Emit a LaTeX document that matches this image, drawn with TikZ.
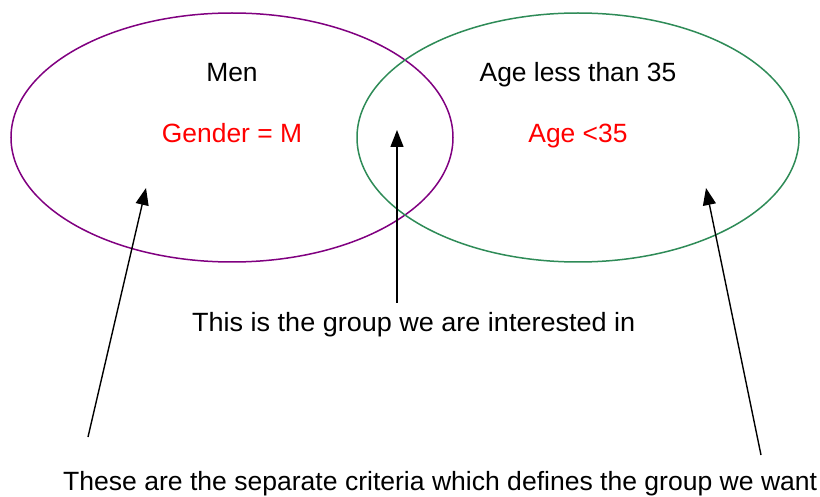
\documentclass[tikz,border=0pt]{standalone}
\usepackage{fontspec}
\setmainfont{Liberation Sans}
\usetikzlibrary{shapes.geometric,arrows.meta}
\definecolor{setpurple}{RGB}{128,0,128}
\definecolor{setgreen}{RGB}{46,139,87}
\definecolor{critred}{RGB}{255,0,0}
\tikzset{
  setellipse/.style={ellipse, draw, line width=1.5pt, minimum width=442pt, minimum height=249pt, inner sep=0pt},
  lbl/.style={anchor=base, inner sep=0pt, font=\fontsize{26.4}{31}\selectfont},
  crit/.style={lbl, text=critred},
  pointer/.style={line width=1.4pt, -{Triangle[length=17pt,width=13pt]}},
}
\begin{document}
\begin{tikzpicture}[x=1pt,y=-1pt]
\useasboundingbox (0,0) rectangle (820,497);
\node[setellipse, draw=setpurple] (men) at (232,137.5) {};
\node[setellipse, draw=setgreen] (age) at (578,137.5) {};
\node[lbl] (menlbl) at (232,82) {Men};
\node[crit] (gender) at (232,143) {Gender = M};
\node[lbl] (agelbl) at (578,82) {Age less than 35};
\node[crit] (agecrit) at (578,143) {Age <35};
\node[lbl, anchor=base west] (interest) at (192,332) {\resizebox{443pt}{\height}{This is the group we are interested in}};
\node[lbl, anchor=base west] (criteria) at (63,490) {\resizebox{754pt}{\height}{These are the separate criteria which defines the group we want}};
\coordinate (midtail) at (397,303);
\coordinate (midtip) at (397,130);
\coordinate (lefttail) at (88,437);
\coordinate (lefttip) at (146,188);
\coordinate (righttail) at (761,455);
\coordinate (righttip) at (706,188);
\draw[pointer] (midtail) -- (midtip);
\draw[pointer] (lefttail) -- (lefttip);
\draw[pointer] (righttail) -- (righttip);
\end{tikzpicture}
\end{document}
